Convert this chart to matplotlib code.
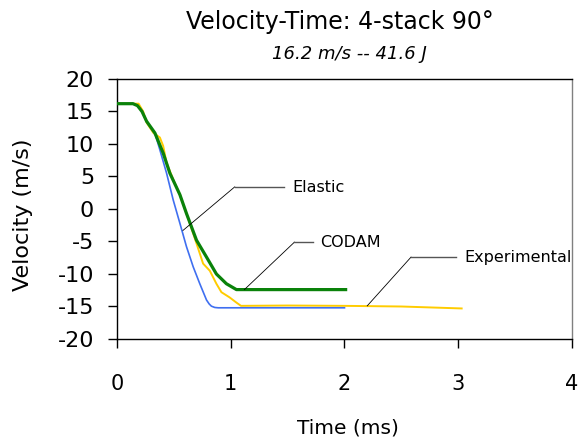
"""
Velocity-Time: 4-stack 90 deg (elastic / CODAM / experimental)
"""
import matplotlib
matplotlib.use("Agg")
import matplotlib.pyplot as plt

plt.rcParams["axes.unicode_minus"] = False

# Experimental (yellow)
t_exp = [0, 0.19, 0.23, 0.26, 0.32, 0.377, 0.406, 0.436, 0.50, 0.553, 0.611, 0.699,
         0.757, 0.816, 0.874, 0.918, 0.99, 1.05, 1.09, 1.5, 2.0, 2.5, 3.03]
v_exp = [16.2, 16.2, 15.0, 13.3, 11.7, 11.0, 9.7, 7.1, 4.3, 2.2, -0.7, -5.3,
         -8.4, -9.5, -11.5, -12.8, -13.6, -14.4, -14.9, -14.85, -14.9, -15.0, -15.3]

# Elastic (blue)
t_el = [0, 0.14, 0.18, 0.22, 0.26, 0.333, 0.377, 0.436, 0.494, 0.553, 0.611, 0.67,
        0.728, 0.787, 0.81, 0.83, 0.86, 0.89, 2.0]
v_el = [16.2, 16.2, 15.9, 15.0, 13.5, 11.7, 9.1, 5.5, 1.4, -2.2, -5.8, -8.9,
        -11.5, -14.0, -14.6, -14.95, -15.15, -15.2, -15.2]

# CODAM (green)
t_cd = [0, 0.14, 0.18, 0.22, 0.26, 0.333, 0.406, 0.465, 0.553, 0.611, 0.699, 0.787,
        0.874, 0.962, 1.05, 2.01]
v_cd = [16.2, 16.2, 15.9, 15.0, 13.5, 11.7, 8.6, 5.5, 2.2, -0.7, -4.8, -7.4,
        -10.0, -11.5, -12.4, -12.4]

x_ticks = [0, 1, 2, 3, 4]
y_ticks = [-20, -15, -10, -5, 0, 5, 10, 15, 20]

# label text, curve point, elbow point, end of horizontal leg
callouts = [
    ("Elastic", (0.58, -3.3), (1.035, 3.4), (1.47, 3.4)),
    ("CODAM", (1.12, -12.4), (1.56, -5.1), (1.72, -5.1)),
    ("Experimental", (2.20, -14.9), (2.585, -7.4), (2.98, -7.4)),
]

fig = plt.figure(figsize=(5.8, 4.48), dpi=100)
ax = fig.add_axes([0.2017, 0.2433, 0.7845, 0.5804])

ax.plot(t_exp, v_exp, color="#FFCC00", lw=1.4, zorder=2)
ax.plot(t_el, v_el, color="#3F6FF0", lw=1.2, zorder=3)
ax.plot(t_cd, v_cd, color="#0A820A", lw=2.3, zorder=4)

for name, p0, p1, p2 in callouts:
    ax.plot([p0[0], p1[0]], [p0[1], p1[1]], color="black", lw=0.6, zorder=5)
    ax.plot([p1[0], p2[0]], [p1[1], p2[1]], color="#555555", lw=1.0, zorder=5)
    ax.text(p2[0] + 0.07, p2[1] - 0.1, name, fontsize=11.5, va="center", ha="left")

ax.set_xlim(0, 4)
ax.set_ylim(-20, 20)
ax.set_xticks(x_ticks)
ax.set_yticks(y_ticks)
ax.tick_params(axis="x", direction="out", length=6.5, width=1, labelsize=15, pad=19)
ax.tick_params(axis="y", direction="out", length=6.5, width=1, labelsize=16, pad=10)

for side in ["left", "bottom", "top"]:
    ax.spines[side].set_color("black")
    ax.spines[side].set_linewidth(1)
ax.spines["right"].set_color("#808080")
ax.spines["right"].set_linewidth(1)

ax.set_xlabel("Time (ms)", fontsize=14.5, va="center")
ax.xaxis.set_label_coords(0.508, -0.342)
ax.set_ylabel("Velocity (m/s)", fontsize=16, va="center")
ax.yaxis.set_label_coords(-0.207, 0.477)

fig.text(0.586, 0.951, "Velocity-Time: 4-stack 90°", fontsize=17, ha="center", va="center")
fig.text(0.603, 0.88, "16.2 m/s -- 41.6 J", fontsize=13, style="italic", ha="center", va="center")

fig.savefig("out.png", dpi=100)
